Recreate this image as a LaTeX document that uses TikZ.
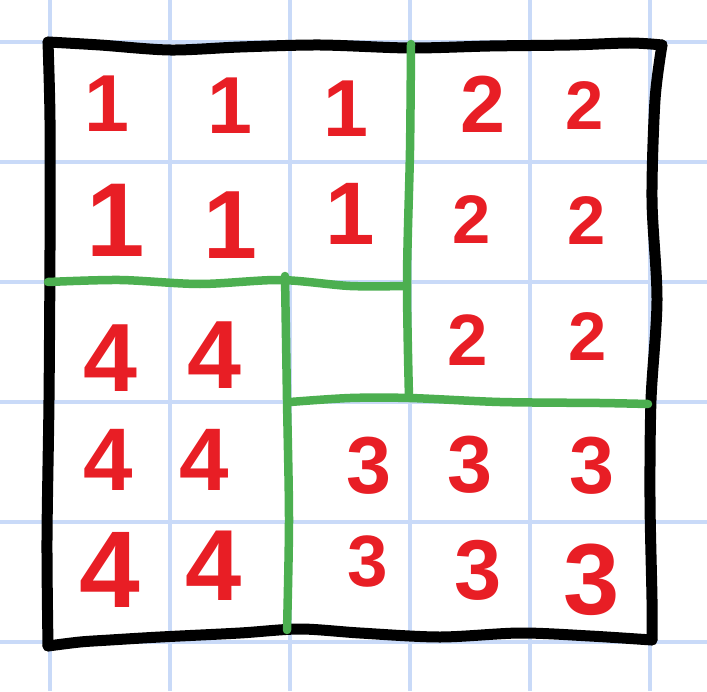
\documentclass[tikz,border=0pt]{standalone}
\usepackage{fontspec}
\setsansfont{Liberation Sans}
\usepackage{xcolor}
\usetikzlibrary{
		calc,
		positioning
	}
\definecolor{paperblue}{RGB}{201,218,248}
\definecolor{regiongreen}{RGB}{76,175,80}
\definecolor{digitred}{RGB}{232,30,37}
\tikzset{
		>=stealth,
		gridline/.style={draw=paperblue, line width=0.7mm},
		frameline/.style={draw=black, line width=2.2mm, line cap=round, line join=round},
		cutline/.style={draw=regiongreen, line width=1.7mm, line cap=round, line join=round},
		cellnum/.style={text=digitred, inner sep=0pt, font=\sffamily\bfseries\fontsize{46}{46}\selectfont}
	}

\begin{document}
\begin{tikzpicture}[x=0.2mm, y=-0.2mm]
		\useasboundingbox (0,0) rectangle (707,691);
		\fill[white] (0,0) rectangle (707,691);
		% squared paper
		\foreach \gx in {50,170,290,410,530,650}
			\draw[gridline] (\gx,0) -- (\gx,691);
		\foreach \gy in {42,162,282,402,522,642}
			\draw[gridline] (0,\gy) -- (707,\gy);
		% outer frame
		\draw[frameline] plot[smooth] coordinates {(48,42) (100,45) (170,50) (240,47) (320,45) (410,48) (490,46) (570,45) (630,43) (662,45)};
		\draw[frameline] plot[smooth] coordinates {(662,45) (655,100) (652,200) (657,300) (651,400) (650,500) (652,600) (652,640)};
		\draw[frameline] plot[smooth] coordinates {(652,640) (590,636) (520,633) (440,637) (360,633) (300,629) (240,633) (160,637) (110,640) (80,642) (48,646)};
		\draw[frameline] plot[smooth] coordinates {(48,646) (47,540) (49,400) (50,250) (50,120) (48,42)};
		% regions
		\draw[cutline] plot[smooth] coordinates {(411,44) (410,150) (407,280) (409,398)};
		\draw[cutline] plot[smooth] coordinates {(48,282) (120,280) (200,284) (280,280) (350,286) (405,286)};
		\draw[cutline] plot[smooth] coordinates {(285,276) (287,400) (289,520) (287,630)};
		\draw[cutline] plot[smooth] coordinates {(290,402) (350,398) (410,398) (500,402) (600,403) (648,404)};
		% region 1
		\node[cellnum] (a11) at (107,104) {1};
		\node[cellnum] (a12) at (230,106) {1};
		\node[cellnum] (a13) at (346,109) {1};
		\node[cellnum, scale=1.3] (a21) at (116,220) {1};
		\node[cellnum, scale=1.2] (a22) at (230,225) {1};
		\node[cellnum, scale=1.1] (a23) at (350,214) {1};
		% region 2
		\node[cellnum] (a14) at (483,104) {2};
		\node[cellnum, scale=0.85] (a15) at (585,106) {2};
		\node[cellnum, scale=0.85] (a24) at (472,220) {2};
		\node[cellnum, scale=0.85] (a25) at (587,221) {2};
		\node[cellnum, scale=0.9] (a34) at (468,340) {2};
		\node[cellnum, scale=0.85] (a35) at (588,337) {2};
		% region 4
		\node[cellnum, scale=1.2] (a31) at (110,358) {4};
		\node[cellnum, scale=1.2] (a32) at (214,355) {4};
		\node[cellnum, scale=1.1] (a41) at (108,460) {4};
		\node[cellnum, scale=1.1] (a42) at (204,460) {4};
		\node[cellnum, scale=1.35] (a51) at (110,570) {4};
		\node[cellnum, scale=1.25] (a52) at (214,566) {4};
		% region 3
		\node[cellnum] (a43) at (369,466) {3};
		\node[cellnum] (a44) at (470,465) {3};
		\node[cellnum] (a45) at (592,466) {3};
		\node[cellnum, scale=0.9] (a53) at (368,562) {3};
		\node[cellnum, scale=1.05] (a54) at (478,570) {3};
		\node[cellnum, scale=1.25] (a55) at (592,580) {3};
	\end{tikzpicture}
\end{document}
